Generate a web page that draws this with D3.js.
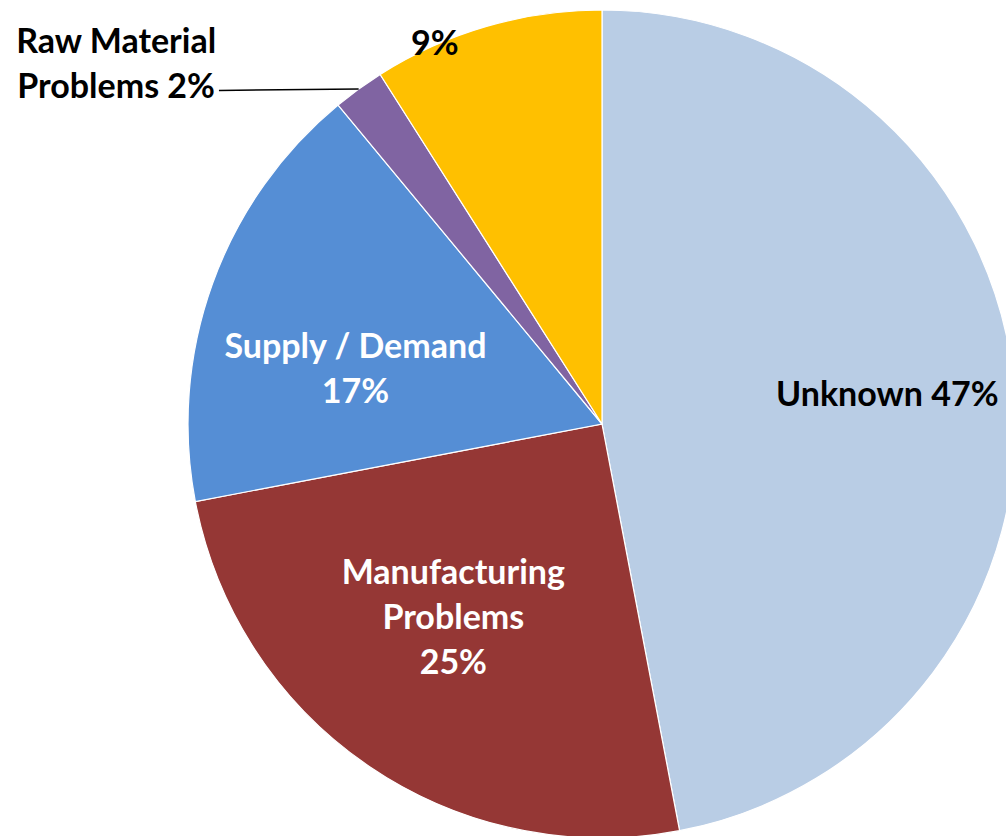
<!DOCTYPE html>
<html>
<head>
<meta charset="utf-8">
<script src="https://cdn.jsdelivr.net/npm/d3@7"></script>
<style>
  html, body { margin: 0; padding: 0; background: #fff; overflow: hidden; }
  svg text { font-family: Lato, "Open Sans", sans-serif; font-weight: 700; }
</style>
</head>
<body>
<svg id="chart" width="1006" height="836"></svg>
<script>
// slices, clockwise from 12 o'clock
const categories = ["Unknown", "Manufacturing Problems", "Supply / Demand", "Raw Material Problems", ""];
const values = [47, 25, 17, 2, 9];
const colors = ["#B9CDE5", "#953735", "#558ED5", "#8064A2", "#FFC000"];
// label text, one entry per line
const labelLines = [
  ["Unknown 47%"],
  ["Manufacturing", "Problems", "25%"],
  ["Supply / Demand", "17%"],
  ["Raw Material", "Problems 2%"],
  ["9%"]
];
const labelColors = ["#000", "#fff", "#fff", "#000", "#000"];

const width = 1006, height = 836;
const cx = 602, cy = 424, R = 414;
const fontSize = 34, lineH = 45, capH = 23;

// where each label sits: radius as fraction of R, angle offset (deg) from slice middle
const labelPlace = [
  { r: 0.693, off: -0.6 },
  { r: 0.59, off: 3.3 },
  { r: 0.61, off: -7.3 },
  { r: 1.46, off: -17.5 },
  { r: 1.005, off: -7.5 }
];

const svg = d3.select("#chart");
const g = svg.append("g").attr("transform", `translate(${cx},${cy})`);

const pie = d3.pie().sort(null).value(d => d);
const arcs = pie(values);
const arc = d3.arc().innerRadius(0).outerRadius(R);

g.selectAll("path.slice")
  .data(arcs)
  .join("path")
  .attr("class", "slice")
  .attr("d", arc)
  .attr("fill", (d, i) => colors[i])
  .attr("stroke", "#fff")
  .attr("stroke-width", 1.2);

const polar = (ang, r) => [r * Math.sin(ang), -r * Math.cos(ang)];

arcs.forEach((d, i) => {
  const p = labelPlace[i];
  const midA = (d.startAngle + d.endAngle) / 2;
  const [lx, ly] = polar(midA + p.off * Math.PI / 180, p.r * R);
  const lines = labelLines[i];
  const t = g.append("text")
    .attr("text-anchor", "middle")
    .attr("fill", labelColors[i])
    .style("font-size", fontSize + "px");
  lines.forEach((s, k) => {
    t.append("tspan")
      .attr("x", lx)
      .attr("y", ly + (k - (lines.length - 1) / 2) * lineH + capH / 2)
      .text(s);
  });

  // leader line for the small outside label
  if (p.r > 1.2) {
    const last = t.selectAll("tspan").nodes().slice(-1)[0];
    const w = last.getComputedTextLength();
    const sy = ly + ((lines.length - 1) / 2) * lineH + capH / 2 - 8;
    const [ex, ey] = polar(midA, R);
    g.append("line")
      .attr("x1", lx + w / 2 + 4)
      .attr("y1", sy)
      .attr("x2", ex)
      .attr("y2", ey)
      .attr("stroke", "#000")
      .attr("stroke-width", 1.5);
  }
});
</script>
</body>
</html>
